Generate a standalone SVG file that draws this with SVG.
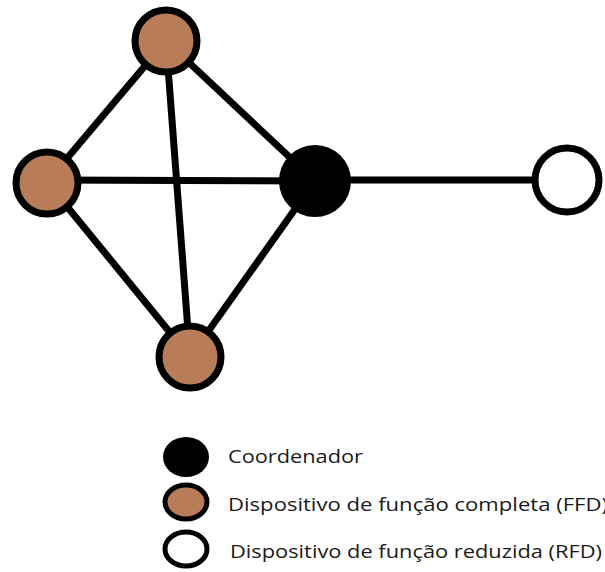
<svg xmlns="http://www.w3.org/2000/svg" width="605" height="572" viewBox="0 0 605 572">
  <style>
    .edge { stroke: #000; stroke-width: 7; stroke-linecap: round; fill: none; }
    .ffd { fill: #b97c59; stroke: #000; stroke-width: 7; }
    .coord { fill: #000; stroke: #000; stroke-width: 2; }
    .rfd { fill: #fff; stroke: #000; stroke-width: 7; }
    .lg-ffd { fill: #b97c59; stroke: #000; stroke-width: 5; }
    .lg-rfd { fill: #fff; stroke: #000; stroke-width: 5; }
    .label { font-family: "Open Sans", "Liberation Sans", sans-serif; font-size: 19px; fill: #1a1a1a; }
  </style>

  <g id="connectors">
    <line class="edge" x1="166" y1="41" x2="47" y2="182"/>
    <line class="edge" x1="166" y1="41" x2="315" y2="181"/>
    <line class="edge" x1="166" y1="41" x2="190" y2="357"/>
    <line class="edge" x1="47" y1="180" x2="315" y2="181"/>
    <line class="edge" x1="47" y1="182" x2="190" y2="357"/>
    <line class="edge" x1="315" y1="181" x2="190" y2="357"/>
    <line class="edge" x1="315" y1="180" x2="567" y2="180"/>
  </g>

  <g id="node-top">
    <circle class="ffd" cx="166" cy="41" r="31"/>
  </g>
  <g id="node-left">
    <circle class="ffd" cx="47" cy="183" r="31"/>
  </g>
  <g id="node-bottom">
    <circle class="ffd" cx="190" cy="357" r="31"/>
  </g>
  <g id="node-coordinator">
    <circle class="coord" cx="315" cy="181" r="35"/>
  </g>
  <g id="node-rfd">
    <circle class="rfd" cx="567" cy="180" r="32"/>
  </g>

  <g id="legend">
    <g id="legend-coordinator">
      <ellipse cx="186" cy="457" rx="23" ry="20" fill="#000"/>
      <text class="label" x="228" y="463" textLength="135" lengthAdjust="spacingAndGlyphs">Coordenador</text>
    </g>
    <g id="legend-ffd">
      <ellipse class="lg-ffd" cx="186" cy="502" rx="21" ry="17"/>
      <text class="label" x="228" y="511" textLength="380" lengthAdjust="spacingAndGlyphs">Dispositivo de função completa (FFD)</text>
    </g>
    <g id="legend-rfd">
      <ellipse class="lg-rfd" cx="186" cy="549" rx="21" ry="17"/>
      <text class="label" x="230" y="558" textLength="372" lengthAdjust="spacingAndGlyphs">Dispositivo de função reduzida (RFD)</text>
    </g>
  </g>
</svg>
